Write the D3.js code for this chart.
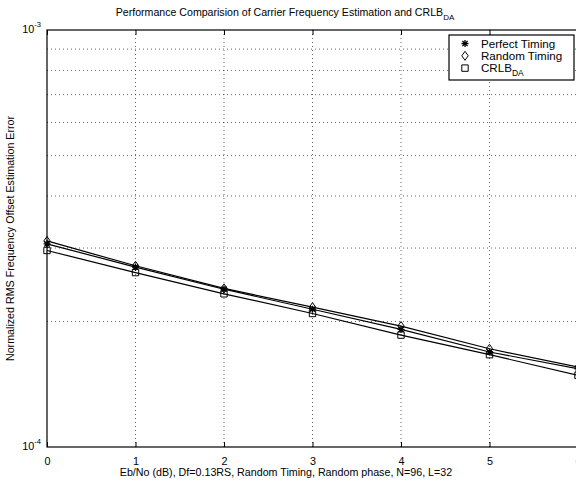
<!DOCTYPE html>
<html>
<head>
<meta charset="utf-8">
<script src="https://cdn.jsdelivr.net/npm/d3@7"></script>
<style>
  body { margin: 0; background: #fff; }
  svg text { font-family: Arial, "Liberation Sans", Helvetica, sans-serif; }
</style>
</head>
<body>
<svg id="chart"></svg>
<script>
// Data
const ebno = [0, 1, 2, 3, 4, 5, 6];
const perfectTiming = [3.07e-4, 2.70e-4, 2.39e-4, 2.14e-4, 1.915e-4, 1.69e-4, 1.54e-4];
const randomTiming = [3.12e-4, 2.72e-4, 2.40e-4, 2.165e-4, 1.95e-4, 1.72e-4, 1.555e-4];
const crlbDA = [2.96e-4, 2.62e-4, 2.33e-4, 2.09e-4, 1.855e-4, 1.665e-4, 1.485e-4];
const xTicks = [0, 1, 2, 3, 4, 5, 6];
const yMinor = [2e-4, 3e-4, 4e-4, 5e-4, 6e-4, 7e-4, 8e-4, 9e-4];

const width = 576;
const height = 483;
const margin = { left: 47, top: 30, bottom: 36 };
const plotRight = 578;

const svg = d3.select("#chart").attr("width", width).attr("height", height);

const xScale = d3.scaleLinear().domain([0, 6]).range([margin.left, plotRight]);
const yScale = d3.scaleLog().domain([1e-4, 1e-3]).range([height - margin.bottom, margin.top]);

const y0 = yScale(1e-4);
const y1 = yScale(1e-3);

// dotted grid
svg.append("g")
  .selectAll("line")
  .data(xTicks.slice(1, 6))
  .join("line")
  .attr("x1", (d) => xScale(d))
  .attr("x2", (d) => xScale(d))
  .attr("y1", y1)
  .attr("y2", y0)
  .attr("stroke", "#000")
  .attr("stroke-width", 0.6)
  .attr("stroke-dasharray", "1,3");

svg.append("g")
  .selectAll("line")
  .data(yMinor)
  .join("line")
  .attr("x1", margin.left)
  .attr("x2", plotRight)
  .attr("y1", (d) => yScale(d))
  .attr("y2", (d) => yScale(d))
  .attr("stroke", "#000")
  .attr("stroke-width", 0.6)
  .attr("stroke-dasharray", "1,3");

// axes box
svg.append("rect")
  .attr("x", margin.left)
  .attr("y", y1)
  .attr("width", plotRight - margin.left)
  .attr("height", y0 - y1)
  .attr("fill", "none")
  .attr("stroke", "#000")
  .attr("stroke-width", 1.2);

// inner ticks top and bottom
const xAxisBottom = d3.axisBottom(xScale)
  .tickValues(xTicks)
  .tickFormat(d3.format("d"))
  .tickSize(-5)
  .tickPadding(10);
svg.append("g")
  .attr("transform", `translate(0, ${y0})`)
  .call(xAxisBottom)
  .call((g) => g.select(".domain").remove())
  .call((g) => g.attr("font-family", null).attr("font-size", null))
  .call((g) => g.selectAll("text").attr("font-size", 10.8));

const xAxisTop = d3.axisTop(xScale).tickValues(xTicks).tickSize(-5).tickFormat("");
svg.append("g")
  .attr("transform", `translate(0, ${y1})`)
  .call(xAxisTop)
  .call((g) => g.select(".domain").remove());

// y tick labels 10^-3 and 10^-4
const yLabels = [1e-3, 1e-4];
const yl = svg.append("g")
  .selectAll("text")
  .data(yLabels)
  .join("text")
  .attr("x", margin.left - 6)
  .attr("y", (d) => yScale(d) + 3)
  .attr("text-anchor", "end")
  .attr("font-size", 10.8);
yl.append("tspan").text("10");
yl.append("tspan")
  .attr("dy", -6)
  .attr("font-size", 7.5)
  .text((d) => Math.round(Math.log10(d)));

// lines and markers
const series = [
  { name: "Perfect Timing", values: perfectTiming, marker: "star" },
  { name: "Random Timing", values: randomTiming, marker: "diamond" },
  { name: "CRLB", sub: "DA", values: crlbDA, marker: "square" }
];

const line = d3.line()
  .x((d, i) => xScale(ebno[i]))
  .y((d) => yScale(d));

function markerPath(type) {
  if (type === "star") return "M-3.5,0H3.5M0,-3.5V3.5M-2.6,-2.6L2.6,2.6M-2.6,2.6L2.6,-2.6";
  if (type === "diamond") return "M0,-4.5L3.2,0L0,4.5L-3.2,0Z";
  return "M-3.2,-3.2H3.2V3.2H-3.2Z";
}

series.forEach((s) => {
  svg.append("path")
    .datum(s.values)
    .attr("d", line)
    .attr("fill", "none")
    .attr("stroke", "#000")
    .attr("stroke-width", 1.2);

  svg.append("g")
    .selectAll("path")
    .data(s.values)
    .join("path")
    .attr("transform", (d, i) => `translate(${xScale(ebno[i])},${yScale(d)})`)
    .attr("d", markerPath(s.marker))
    .attr("fill", "none")
    .attr("stroke", "#000")
    .attr("stroke-width", s.marker === "star" ? 1.3 : 1);
});

// legend
const legend = svg.append("g").attr("transform", "translate(449, 35)");
legend.append("rect")
  .attr("width", 125)
  .attr("height", 45)
  .attr("fill", "#fff")
  .attr("stroke", "#000")
  .attr("stroke-width", 1.2);

series.forEach((s, i) => {
  const yy = 8.5 + i * 12.3;
  legend.append("path")
    .attr("transform", `translate(16, ${yy})`)
    .attr("d", markerPath(s.marker))
    .attr("fill", "none")
    .attr("stroke", "#000")
    .attr("stroke-width", s.marker === "star" ? 1.3 : 1);
  const t = legend.append("text")
    .attr("x", 32)
    .attr("y", yy + 4)
    .attr("font-size", 11.6)
    .text(s.name);
  if (s.sub) {
    t.append("tspan").attr("dy", 4).attr("font-size", 8.5).text(s.sub);
  }
});

// title
const title = svg.append("text")
  .attr("x", 285)
  .attr("y", 16)
  .attr("text-anchor", "middle")
  .attr("font-size", 10.6);
title.append("tspan").text("Performance Comparision of Carrier Frequency Estimation and CRLB");
title.append("tspan").attr("dy", 4).attr("font-size", 8).text("DA");

// axis labels
svg.append("text")
  .attr("x", 286)
  .attr("y", 476)
  .attr("text-anchor", "middle")
  .attr("font-size", 10.7)
  .text("Eb/No (dB), Df=0.13RS, Random Timing, Random phase, N=96, L=32");

svg.append("text")
  .attr("transform", `translate(14, ${(y0 + y1) / 2}) rotate(-90)`)
  .attr("text-anchor", "middle")
  .attr("font-size", 10.7)
  .text("Normalized RMS Frequency Offset Estimation Error");
</script>
</body>
</html>
